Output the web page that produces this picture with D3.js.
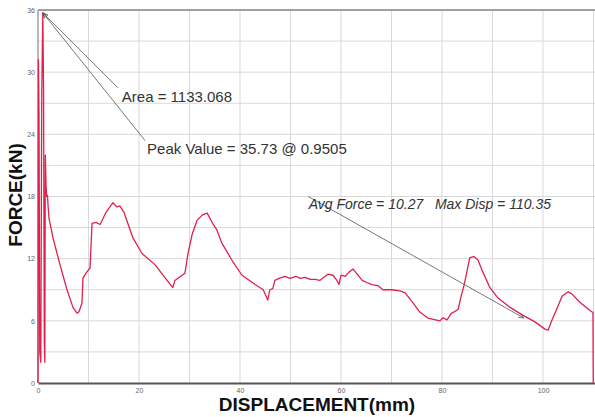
<!DOCTYPE html>
<html>
<head>
<meta charset="utf-8">
<script src="https://cdnjs.cloudflare.com/ajax/libs/d3/7.8.5/d3.min.js"></script>
<style>
  body { margin: 0; background: #fff; }
  svg { display: block; font-family: "Liberation Sans", Arial, sans-serif; }
</style>
</head>
<body>
<div id="main"></div>
<script>
// displacement (mm) and force (kN)
var disp = [0, 0.08, 0.2, 0.35, 0.55, 0.75, 0.95, 1.1, 1.25, 1.35, 1.45, 1.6, 1.72, 1.88, 1.98, 2.18, 2.97, 4.36,
    5.74, 6.93, 7.72, 8.1, 8.7, 8.9, 9.5, 10.3, 10.7, 11.5, 12.3, 13.5, 14.85, 15.6, 16.2, 17.0, 18.8, 20.6,
    23.2, 25.1, 26.7, 27.1, 29.1, 29.7, 30.5, 31.5, 32.5, 33.5, 34.7, 35.4, 36.4, 38.6, 40.4, 43.0, 44.6,
    45.5, 45.9, 46.5, 46.9, 47.7, 48.9, 49.9, 51.1, 51.9, 52.9, 53.9, 54.9, 55.8, 56.6, 57.4, 58.4, 59.2,
    59.6, 60.0, 60.8, 61.6, 62.4, 63.2, 64.2, 65.1, 66.1, 67.3, 68.3, 68.7, 70.1, 71.7, 72.7, 74.3, 75.6,
    77.2, 79.6, 80.2, 81.0, 81.8, 83.2, 83.8, 84.4, 85.0, 85.5, 86.3, 87.1, 88.1, 89.5, 91.1, 93.5, 95.8,
    98.4, 100.4, 101.0, 101.8, 102.6, 103.8, 105.0, 105.7, 107.3, 109.3, 109.9, 109.95];
var force = [0, 31.2, 26, 3, 2, 28, 35.73, 28.5, 4, 2, 22, 19, 18.0, 18.1, 17.2, 15.9, 14.0, 11.4,
    9.0, 7.3, 6.75, 6.85, 7.7, 10.1, 10.6, 11.1, 15.4, 15.5, 15.3, 16.5, 17.4, 17.0, 17.1, 16.5, 14.0, 12.5,
    11.4, 10.2, 9.2, 9.9, 10.6, 12.5, 14.3, 15.7, 16.2, 16.4, 15.3, 14.8, 13.5, 11.7, 10.4, 9.5, 9.0,
    8.0, 9.0, 9.1, 9.9, 10.1, 10.3, 10.1, 10.3, 10.1, 10.2, 10.0, 10.0, 9.9, 10.2, 10.5, 10.4, 9.9,
    9.5, 10.4, 10.3, 10.7, 11.0, 10.5, 9.9, 9.7, 9.5, 9.4, 9.0, 9.0, 9.0, 8.9, 8.7, 7.7, 6.85,
    6.27, 6.0, 6.3, 6.1, 6.7, 7.1, 8.4, 9.5, 10.9, 12.1, 12.2, 11.9, 10.7, 9.2, 8.2, 7.3, 6.6,
    5.9, 5.2, 5.1, 6.1, 7.0, 8.4, 8.8, 8.6, 7.8, 7.0, 6.8, 0];

var xTicks = [0, 20, 40, 60, 80, 100];
var yTicks = [0, 6, 12, 18, 24, 30, 36];
var xGrid = [10, 20, 30, 40, 50, 60, 70, 80, 90, 100, 110];
var yGrid = [3, 6, 9, 12, 15, 18, 21, 24, 27, 30, 33];

// annotation texts, where they sit and where their arrows run (data units)
var noteText = ["Area = 1133.068", "Peak Value = 35.73 @ 0.9505", "Avg Force = 10.27   Max Disp = 110.35"];
var noteSize = [15, 15, 14];
var noteAt = [[16.6, 27.1], [21.6, 22.1], [53.6, 16.8]];
var arrowFrom = [[15.8, 28.5], [21.2, 23.4], [53.5, 18.0]];
var arrowTo = [[0.95, 35.73], [0.95, 35.73], [96.2, 6.27]];

var data = disp.map(function(d, i) { return {Disp: d, Force: force[i]}; });

var svg = d3.select('#main')
    .append('svg')
    .attr('width', 595)
    .attr('height', 417);

var margin = {top: 10, right: 0, bottom: 34, left: 38},
    width = 595 - margin.left - margin.right,
    height = 417 - margin.top - margin.bottom,
    g = svg.append("g").attr("transform", "translate(" + margin.left + "," + margin.top + ")");

var x = d3.scaleLinear().domain([0, 110.3]).range([0, width]);
var y = d3.scaleLinear().domain([0, 36]).range([height, 0]);

svg.append("defs").append("marker")
    .attr("id", "arr")
    .attr("viewBox", "0 0 10 10")
    .attr("refX", 10).attr("refY", 5)
    .attr("markerWidth", 7).attr("markerHeight", 7)
    .attr("orient", "auto")
    .append("path")
    .attr("d", "M0,1 L10,5 L0,9")
    .attr("fill", "none")
    .attr("stroke", "#555")
    .attr("stroke-width", 1.2);

// grid
g.selectAll(".vgrid").data(xGrid).enter().append("line")
    .attr("x1", function(d) { return x(d); }).attr("x2", function(d) { return x(d); })
    .attr("y1", 0).attr("y2", height)
    .attr("stroke", "#d9d9d9").attr("stroke-width", 1);
g.selectAll(".hgrid").data(yGrid).enter().append("line")
    .attr("x1", 0).attr("x2", width)
    .attr("y1", function(d) { return y(d); }).attr("y2", function(d) { return y(d); })
    .attr("stroke", "#d9d9d9").attr("stroke-width", 1);

// frame
g.append("line").attr("x1", 0).attr("x2", width).attr("y1", 0).attr("y2", 0)
    .attr("stroke", "#a0a0a0").attr("stroke-width", 2);
g.append("line").attr("x1", 0).attr("x2", 0).attr("y1", 0).attr("y2", height)
    .attr("stroke", "#a0a0a0").attr("stroke-width", 1.5);

// axes
var xAxis = g.append("g")
    .attr("transform", "translate(0," + height + ")")
    .call(d3.axisBottom(x).tickValues(xTicks).tickSize(0).tickPadding(5));
xAxis.select(".domain").attr("stroke", "#555").attr("stroke-width", 2);
xAxis.selectAll("text").attr("fill", "#666").attr("font-size", 7);

var yAxis = g.append("g")
    .call(d3.axisLeft(y).tickValues(yTicks).tickSize(0).tickPadding(3));
yAxis.select(".domain").remove();
yAxis.selectAll("text").attr("fill", "#666").attr("font-size", 7);

// curve
var line = d3.line()
    .x(function(d) { return x(d.Disp); })
    .y(function(d) { return y(d.Force); });

g.append("path")
    .datum(data)
    .attr("fill", "none")
    .attr("stroke", "#e0204c")
    .attr("stroke-linejoin", "round")
    .attr("stroke-width", 1.3)
    .attr("d", line);

// annotations
g.selectAll(".arrow").data(arrowFrom).enter().append("line")
    .attr("x1", function(d) { return x(d[0]); })
    .attr("y1", function(d) { return y(d[1]); })
    .attr("x2", function(d, i) { return x(arrowTo[i][0]); })
    .attr("y2", function(d, i) { return y(arrowTo[i][1]); })
    .attr("stroke", "#555")
    .attr("stroke-width", 0.8)
    .attr("marker-end", "url(#arr)");

g.selectAll(".note").data(noteText).enter().append("text")
    .attr("x", function(d, i) { return x(noteAt[i][0]); })
    .attr("y", function(d, i) { return y(noteAt[i][1]); })
    .attr("font-size", function(d, i) { return noteSize[i]; })
    .attr("font-style", function(d, i) { return i == 2 ? "italic" : "normal"; })
    .attr("fill", "#333")
    .style("white-space", "pre")
    .text(function(d) { return d; });

// axis titles
svg.append("text")
    .attr("x", 317)
    .attr("y", 411)
    .attr("text-anchor", "middle")
    .attr("font-size", 19)
    .attr("font-weight", "bold")
    .attr("fill", "#111")
    .text("DISPLACEMENT(mm)");

svg.append("text")
    .attr("transform", "translate(22,195) rotate(-90)")
    .attr("text-anchor", "middle")
    .attr("font-size", 19)
    .attr("font-weight", "bold")
    .attr("fill", "#111")
    .text("FORCE(kN)");
</script>
</body>
</html>
